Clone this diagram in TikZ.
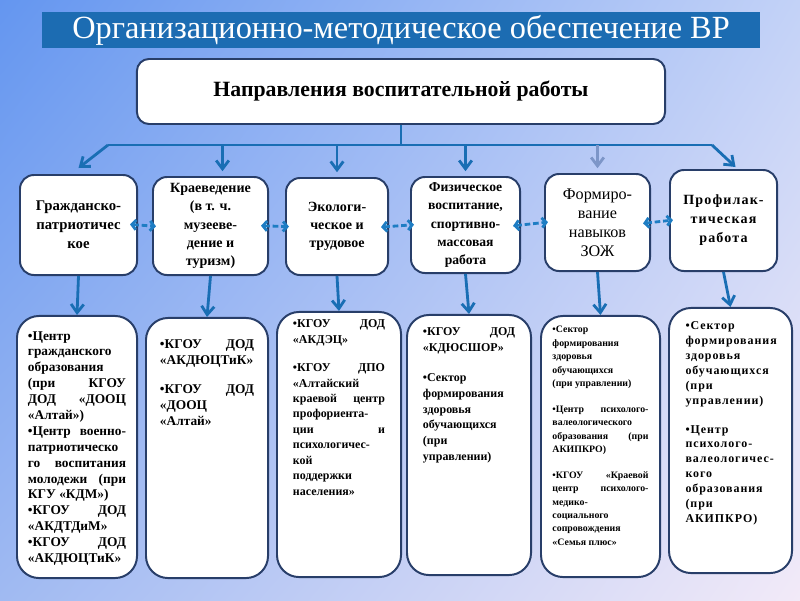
\documentclass[tikz,border=0pt]{standalone}
\usepackage{fontspec}
\setmainfont{Liberation Serif}
\newfontfamily\spacedfont[LetterSpace=8]{Liberation Serif}
\usetikzlibrary{arrows.meta,positioning,shadings}
\definecolor{titleblue}{RGB}{28,108,178}
\definecolor{lineblue}{RGB}{25,110,180}
\definecolor{linkblue}{RGB}{30,125,195}
\definecolor{fadeblue}{RGB}{125,150,200}
\definecolor{boxline}{RGB}{40,62,105}
\definecolor{bgA}{RGB}{100,150,240}
\definecolor{bgB}{RGB}{195,210,247}
\definecolor{bgC}{RGB}{160,186,242}
\definecolor{bgD}{RGB}{242,234,248}
\hyphenpenalty=10000

\begin{document}
\begin{tikzpicture}[x=0.025cm,y=-0.025cm,every node/.style={font=\small},
  dbox/.style={draw=boxline,line width=1.4pt,fill=white,rounded corners=0.35cm,align=center,inner sep=1pt,font=\bfseries\fontsize{10}{13}\selectfont},
  bbox/.style={draw=boxline,line width=1.4pt,fill=white,rounded corners=0.55cm},
  btext/.style={align=justify,inner sep=0pt,font=\bfseries\fontsize{9}{11.3}\selectfont},
  bus/.style={draw=lineblue,line width=2pt},
  arr/.style={draw=lineblue,line width=2pt,-{Straight Barb[length=6pt,width=9pt]}},
  link/.style={draw=linkblue,line width=2pt,dash pattern=on 4pt off 2pt,shorten <=-0.2cm,shorten >=-0.1cm,
    {Straight Barb[length=3pt,width=7pt]}-{Straight Barb[length=3pt,width=7pt]}}]
\useasboundingbox (0,0) rectangle (800,600);
\shade[upper left=bgA,upper right=bgB,lower left=bgC,lower right=bgD] (0,0) rectangle (800,600);

% title and main box
\node[fill=titleblue,text=white,minimum width=17.95cm,minimum height=0.9cm,inner sep=0pt,
  font=\fontsize{23}{26}\selectfont] (title) at (401,30) {Организационно-методическое обеспечение ВР};
\node[draw=boxline,line width=1.4pt,fill=white,rounded corners=0.3cm,minimum width=13.2cm,minimum height=1.625cm,
  font=\bfseries\fontsize{15.5}{18}\selectfont] (main) at (401,91.5) {Направления воспитательной работы};

% directions
\node[dbox,minimum width=2.925cm,minimum height=2.5cm,font=\bfseries\fontsize{10.5}{13.5}\selectfont] (d1) at (78.5,225) {Гражданско-\\патриотичес\\кое};
\node[dbox,minimum width=2.875cm,minimum height=2.45cm] (d2) at (210.5,226) {Краеведение\\(в т. ч.\\музееве-\\дение и\\туризм)};
\node[dbox,minimum width=2.55cm,minimum height=2.425cm] (d3) at (337,226.5) {Экологи-\\ческое и\\трудовое};
\node[dbox,minimum width=2.725cm,minimum height=2.4cm,font=\bfseries\fontsize{9.7}{13}\selectfont] (d4) at (465.5,225) {Физическое\\воспитание,\\спортивно-\\массовая\\работа};
\node[dbox,minimum width=2.625cm,minimum height=2.425cm,font=\fontsize{11.5}{13.5}\selectfont] (d5) at (597.5,222.5) {Формиро-\\вание\\навыков\\ЗОЖ};
\node[dbox,minimum width=2.675cm,minimum height=2.525cm,font=\spacedfont\bfseries\fontsize{10}{13.5}\selectfont] (d6) at (723.5,220.5) {Профилак-\\тическая\\работа};

% bus from the main box
\coordinate (busM) at (401,145);
\coordinate (busL) at (108,145);
\coordinate (busR) at (712,145);
\draw[bus] (main.south) -- (busM);
\draw[bus] (busL) -- (busR);
\draw[arr] (busL) -- ([yshift=0.15cm]d1.north);
\draw[arr] ([xshift=0.3cm]d2.north |- busL) -- ([xshift=0.3cm,yshift=0.12cm]d2.north);
\draw[arr] (d3.north |- busL) -- ([yshift=0.12cm]d3.north);
\draw[arr] (d4.north |- busL) -- ([yshift=0.12cm]d4.north);
\draw[arr,draw=fadeblue] (d5.north |- busL) -- ([yshift=0.12cm]d5.north);
\draw[arr] (busR) -- ([xshift=0.3cm,yshift=0.05cm]d6.north);

% links between directions
\draw[link] (d1.east) -- (d2.west);
\draw[link] (d2.east) -- (d3.west);
\draw[link] (d3.east) -- (d4.west);
\draw[link] (d4.east) -- (d5.west);
\draw[link] (d5.east) -- (d6.west);

% institutions
\node[bbox,minimum width=3cm,minimum height=6.55cm] (b1) at (77,447) {};
\node[bbox,minimum width=3.05cm,minimum height=6.5cm] (b2) at (207,448) {};
\node[bbox,minimum width=3.1cm,minimum height=6.625cm] (b3) at (339,444.5) {};
\node[bbox,minimum width=3.1cm,minimum height=6.5cm] (b4) at (469,445) {};
\node[bbox,minimum width=2.975cm,minimum height=6.525cm] (b5) at (600.5,446.5) {};
\node[bbox,minimum width=3.075cm,minimum height=6.625cm] (b6) at (730.5,440.5) {};

\node[btext,text width=2.45cm,font=\bfseries\fontsize{9.5}{11.3}\selectfont,below=0.4cm of b1.north] (t1) {%
•Центр\\
гражданского\\
образования\\
(при КГОУ\linebreak
ДОД «ДООЦ\linebreak
«Алтай»)\\
•Центр военно-\linebreak
патриотическо\\
го воспитания\linebreak
молодежи (при\linebreak
КГУ «КДМ»)\\
•КГОУ ДОД\linebreak
«АКДТДиМ»\\
•КГОУ ДОД\linebreak
«АКДЮЦТиК»};
\node[btext,text width=2.35cm,font=\bfseries\fontsize{9.5}{11.3}\selectfont,below=0.55cm of b2.north] (t2) {%
•КГОУ ДОД\linebreak
«АКДЮЦТиК»\\[10pt]
•КГОУ ДОД\linebreak
«ДООЦ\\
«Алтай»};
\node[btext,text width=2.3cm,font=\bfseries\fontsize{8.5}{11}\selectfont,below=0.22cm of b3.north] (t3) {%
•КГОУ ДОД\linebreak
«АКДЭЦ»\\[9pt]
•КГОУ ДПО\linebreak
«Алтайский\\
краевой центр\linebreak
профориента-\\
ции и\linebreak
психологичес-\\
кой\\
поддержки\\
населения»};
\node[btext,text width=2.3cm,font=\bfseries\fontsize{8.5}{11.3}\selectfont,below=0.33cm of b4.north] (t4) {%
•КГОУ ДОД\linebreak
«КДЮСШОР»\\[10pt]
•Сектор\\
формирования\\
здоровья\\
обучающихся\\
(при\\
управлении)};
\node[btext,text width=2.4cm,font=\bfseries\fontsize{7}{9.5}\selectfont,below=0.28cm of b5.north] (t5) {%
•Сектор\\
формирования\\
здоровья\\
обучающихся\\
(при управлении)\\[9pt]
•Центр психолого-\linebreak
валеологического\\
образования (при\linebreak
АКИПКРО)\\[9pt]
•КГОУ «Краевой\linebreak
центр психолого-\linebreak
медико-\\
социального\\
сопровождения\\
«Семья плюс»};
\node[btext,text width=2.25cm,font=\spacedfont\bfseries\fontsize{8.5}{10.6}\selectfont,below=0.36cm of b6.north] (t6) {%
•Сектор\\
формирования\\
здоровья\\
обучающихся\\
(при\\
управлении)\\[10pt]
•Центр\\
психолого-\\
валеологичес-\\
кого\\
образования\\
(при\\
АКИПКРО)};

% directions to institutions
\draw[arr] (d1.south) -- (b1.north);
\draw[arr] (d2.south) -- (b2.north);
\draw[arr] (d3.south) -- (b3.north);
\draw[arr] (d4.south) -- (b4.north);
\draw[arr] (d5.south) -- (b5.north);
\draw[arr] (d6.south) -- (b6.north);
\end{tikzpicture}
\end{document}
